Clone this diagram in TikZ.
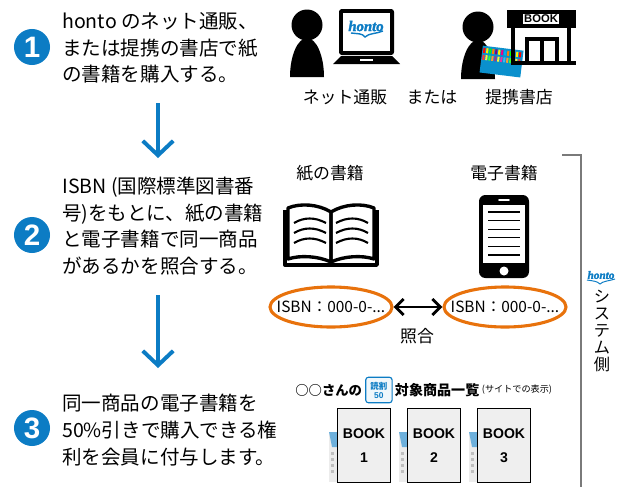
\documentclass[tikz,border=0pt]{standalone}
\usepackage{fontspec}
\setmainfont{Noto Sans CJK JP}
\newfontfamily\logofont{Liberation Serif}[BoldItalicFeatures={FakeBold=2}]
\newfontfamily\numfont{Liberation Sans}
\usetikzlibrary{arrows.meta,positioning,shapes.geometric,calc}
\definecolor{hontoblue}{HTML}{0C7CC4}
\definecolor{isbnorange}{HTML}{E8720C}
\definecolor{framegray}{HTML}{7A7A7A}
\definecolor{pagegray}{HTML}{EFEFEF}

\tikzset{
  stepnum/.style={circle, fill=hontoblue, text=white, minimum size=0.9cm, inner sep=0pt,
    font=\numfont\fontsize{21}{21}\selectfont\bfseries},
  steptext/.style={anchor=west, align=left, inner sep=0pt, font=\fontsize{13.9}{18.9}\selectfont},
  flowarrow/.style={hontoblue, line width=2.8pt, -{Straight Barb[length=3.6mm, width=7.6mm]}},
  iconcap/.style={inner sep=0pt, font=\fontsize{12}{12}\selectfont},
  isbn/.style={ellipse, draw=isbnorange, line width=2.2pt, minimum width=3.05cm,
    minimum height=1.0cm, inner sep=0pt, font=\fontsize{11}{11}\selectfont},
  bookcover/.style={draw, line width=0.9pt, fill=pagegray, minimum width=1.32cm,
    minimum height=1.85cm, inner sep=0pt, align=center,
    font=\numfont\fontsize{10}{17}\selectfont\bfseries},
  person/.pic={
    \fill (0,0) circle[radius=15.5];
    \fill (-17,52) .. controls (-17,30) and (-9,13) .. (0,13)
      .. controls (9,13) and (17,30) .. (17,52) -- cycle;
  }
}

\begin{document}
\begin{tikzpicture}[x=0.025cm, y=-0.025cm]
  \useasboundingbox (0,0) rectangle (618,487);

  % steps on the left
  \node[stepnum] (num1) at (32,47) {1};
  \node[stepnum] (num2) at (32,235) {2};
  \node[stepnum] (num3) at (32,428) {3};
  \node[steptext] (step1) at (62,48) {honto のネット通販、\\または提携の書店で紙\\の書籍を購入する。};
  \node[steptext] (step2) at (62,226) {ISBN (国際標準図書番\\号)をもとに、紙の書籍\\と電子書籍で同一商品\\があるかを照合する。};
  \node[steptext] (step3) at (62,430) {同一商品の電子書籍を\\50\%引きで購入できる権\\利を会員に付与します。};
  \coordinate (arr1s) at (158,103);
  \coordinate (arr1e) at (158,158);
  \coordinate (arr2s) at (158,295);
  \coordinate (arr2e) at (158,368);
  \draw[flowarrow] (arr1s) -- (arr1e);
  \draw[flowarrow] (arr2s) -- (arr2e);

  % buying: online or at a partner shop
  \pic at (307,25) {person};
  \fill[rounded corners=2pt] (339,9) rectangle (394,55);
  \fill[white] (343,13) rectangle (390,51);
  \node[inner sep=0pt, text=hontoblue, font=\logofont\fontsize{10.5}{10.5}\selectfont\bfseries\itshape] (weblogo) at (366,26) {honto};
  \draw[hontoblue, line width=1pt] (351,33) .. controls (358,34) and (362,33) .. (365,37)
    .. controls (369,33) and (376,34) .. (383,31);
  \fill (341,56) -- (392,56) -- (400,64) -- (333,64) -- cycle;
  \fill[white] (360,59) rectangle (373,61);

  \pic at (478,27) {person};
  \begin{scope}[rotate around={-7:(501,62)}]
    \fill[hontoblue!85!cyan] (481,48) rectangle (522,75);
    \foreach \i/\c in {0/red,1/yellow,2/green,3/orange,4/violet,5/yellow,6/magenta,
                       7/cyan,8/orange,9/green,10/magenta,11/yellow,12/red} {
      \fill[\c] ({482+3*\i},50) rectangle ({484+3*\i},55);
      \fill[\c!80!white] ({482+3*\i},57) rectangle ({484+3*\i},62);
    }
  \end{scope}
  \fill (507,10) rectangle (576,28);
  \node[draw, line width=0.8pt, fill=white, inner sep=1pt, minimum width=0.9cm,
    font=\numfont\fontsize{8}{8}\selectfont\bfseries] (shopsign) at (541,19) {BOOK};
  \draw[line width=2.2pt] (513,28) -- (513,63) -- (576,63);
  \draw[line width=2.2pt] (569,28) -- (569,63);
  \draw[line width=2.2pt] (527,63) -- (527,39) -- (557,39) -- (557,63);
  \draw[line width=2.2pt] (542,39) -- (542,63);

  \node[iconcap] (capnet) at (345,97) {ネット通販};
  \node[iconcap] (capor) at (432,97) {または};
  \node[iconcap] (capshop) at (519,97) {提携書店};

  % matching paper book and e-book
  \node[iconcap] (cappaper) at (330,173) {紙の書籍};
  \node[iconcap] (capebook) at (504,173) {電子書籍};

  \draw[line width=2.4pt, line join=round] (331,212) .. controls (318,204) and (300,203) .. (288,208)
    -- (288,259) .. controls (300,255) and (318,256) .. (331,262) -- cycle;
  \draw[line width=2.4pt, line join=round] (331,212) .. controls (344,204) and (362,203) .. (374,208)
    -- (374,259) .. controls (362,255) and (344,256) .. (331,262) -- cycle;
  \draw[line width=2.4pt, line join=round] (285,210) -- (285,265) -- (377,265) -- (377,210);
  \foreach \k in {0,...,2} {
    \draw[line width=1.5pt] (294,{223+10*\k}) .. controls (304,{217+10*\k}) and (315,{217+10*\k}) .. (326,{223+10*\k});
    \draw[line width=1.5pt] (336,{223+10*\k}) .. controls (347,{217+10*\k}) and (358,{217+10*\k}) .. (368,{223+10*\k});
  }

  \fill[rounded corners=4.5pt] (479,195) rectangle (529,278);
  \fill[white] (483,205) rectangle (525,263);
  \fill[white] (504,271) circle[radius=4.5];
  \draw[white, line width=1.2pt, line cap=round] (499,200) -- (509,200);
  \foreach \k in {0,...,5}
    \draw[line width=0.9pt] (488,{212+8.6*\k}) -- (520,{212+8.6*\k});

  \node[isbn] (isbnpaper) at (331,307) {\makebox[0pt]{ISBN：000-0-...}};
  \node[isbn] (isbnebook) at (505,307) {\makebox[0pt]{ISBN：000-0-...}};
  \draw[line width=2pt, {Straight Barb[length=2mm, width=4mm]}-{Straight Barb[length=2mm, width=4mm]}]
    (isbnpaper) -- (isbnebook);
  \node[iconcap] (capmatch) at (417,336) {照合};

  % honto system side
  \draw[framegray, line width=1.2pt] (562,155) -- (581,155) -- (581,487);
  \node[inner sep=0pt, text=hontoblue, font=\logofont\fontsize{8}{8}\selectfont\bfseries\itshape] (sidelogo) at (601,275) {honto};
  \draw[hontoblue, line width=0.7pt] (587,280) .. controls (593,281) and (597,281) .. (600,284)
    .. controls (603,281) and (609,281) .. (615,279);
  \node[inner sep=0pt, align=center, font=\fontsize{11.5}{12.2}\selectfont] (sidetext) at (602,331) {シ\\ス\\テ\\ム\\側};

  % discounted titles list
  \node[anchor=west, inner sep=0pt, font=\fontsize{9.5}{9.5}\selectfont\bfseries] (owner) at (295,390) {○○さんの};
  \node[right=0.07cm of owner, draw=hontoblue, fill=hontoblue!6, line width=0.8pt, rounded corners=2pt,
    minimum width=0.66cm, minimum height=0.64cm, inner sep=0pt, align=center, text=hontoblue,
    font=\fontsize{6}{6.5}\selectfont\bfseries] (badge) {読割\\\numfont 50};
  \node[right=0.05cm of badge, inner sep=0pt, font=\fontsize{10}{10}\selectfont\bfseries] (listname) {対象商品一覧};
  \node[right=0.05cm of listname, inner sep=0pt, font=\fontsize{6.5}{6.5}\selectfont] (sitenote) {(サイトでの表示)};

  \foreach \x/\n in {337/1,407/2,477/3} {
    \fill[gray!15] ({\x-8},432) rectangle ({\x+2},482);
    \fill[hontoblue!60] ({\x-8},432) -- ({\x+2},432) -- ({\x+2},447) -- ({\x-5},447) -- cycle;
    \foreach \k in {0,...,3}
      \fill[gray!50] ({\x-6},{452+6*\k}) rectangle ({\x-3},{455+6*\k});
    \node[bookcover, anchor=north west] (book\n) at (\x,408) {BOOK\\\n};
  }
\end{tikzpicture}
\end{document}
